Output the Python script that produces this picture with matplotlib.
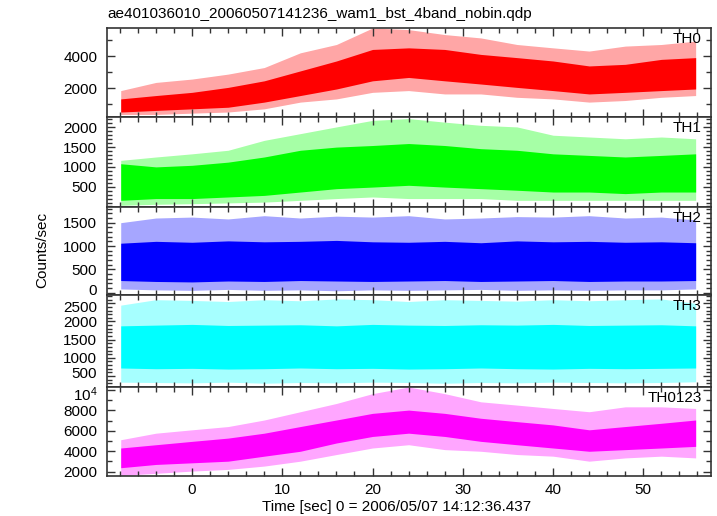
import matplotlib
matplotlib.use("Agg")
import matplotlib.pyplot as plt
import matplotlib.transforms as mtrans
from matplotlib.ticker import MultipleLocator, FixedLocator

plt.rcParams['font.family'] = ['Liberation Sans', 'DejaVu Sans']
plt.rcParams['mathtext.default'] = 'regular'

# ---- data (per ~4 s bin) ----
time_s = [-7.9, -4, 0, 4, 8, 12, 16, 20, 24, 28, 32, 36, 40, 44, 48, 52, 55.8]

th0_core_lo = [500, 600, 700, 800, 1120, 1530, 1940, 2450, 2660, 2450, 2250, 2040, 1840, 1630, 1730, 1840, 1940]
th0_core_hi = [1320, 1530, 1730, 2040, 2450, 3070, 3690, 4410, 4510, 4410, 4100, 3900, 3690, 3380, 3480, 3790, 3900]
th0_spk_lo = [350, 350, 430, 500, 700, 1120, 1320, 1730, 1840, 1630, 1630, 1420, 1320, 1120, 1220, 1420, 1530]
th0_spk_hi = [1840, 2350, 2560, 2870, 3280, 4200, 4720, 5750, 5650, 5340, 5130, 4720, 4510, 4310, 4620, 4720, 4930]

th1_core_lo = [155, 200, 200, 240, 280, 365, 450, 490, 535, 490, 450, 410, 365, 365, 325, 365, 365]
th1_core_hi = [1080, 1000, 1040, 1120, 1250, 1420, 1500, 1540, 1590, 1540, 1460, 1420, 1330, 1290, 1250, 1290, 1330]
th1_spk_lo = [30, 55, 70, 90, 110, 155, 200, 240, 200, 200, 200, 155, 155, 155, 155, 155, 155]
th1_spk_hi = [1165, 1250, 1330, 1420, 1670, 1840, 2010, 2175, 2220, 2130, 2050, 2010, 1800, 1755, 1710, 1755, 1710]

th2_core_lo = [260, 240, 230, 250, 240, 260, 250, 240, 250, 260, 240, 250, 260, 240, 250, 250, 260]
th2_core_hi = [1060, 1100, 1080, 1110, 1090, 1100, 1120, 1090, 1080, 1100, 1070, 1110, 1090, 1100, 1080, 1090, 1070]
th2_spk_lo = [80, 60, 50, 70, 50, 60, 40, 60, 50, 60, 70, 50, 60, 50, 60, 60, 80]
th2_spk_hi = [1500, 1600, 1620, 1580, 1650, 1600, 1640, 1620, 1650, 1580, 1600, 1630, 1620, 1650, 1600, 1620, 1560]

th3_core_lo = [720, 700, 710, 690, 700, 720, 700, 710, 690, 700, 720, 700, 690, 710, 700, 710, 720]
th3_core_hi = [1880, 1900, 1920, 1890, 1900, 1910, 1880, 1920, 1900, 1890, 1910, 1900, 1920, 1890, 1900, 1910, 1880]
th3_spk_lo = [330, 320, 310, 330, 300, 320, 310, 330, 320, 300, 320, 310, 330, 320, 310, 320, 340]
th3_spk_hi = [2450, 2600, 2580, 2550, 2600, 2570, 2620, 2600, 2550, 2600, 2580, 2560, 2600, 2570, 2600, 2620, 2500]

thall_core_lo = [2390, 2710, 2870, 3030, 3520, 4000, 4810, 5450, 5770, 5450, 4970, 4640, 4320, 4000, 4160, 4320, 4480]
thall_core_hi = [4320, 4640, 4970, 5290, 5770, 6420, 7060, 7710, 8030, 7710, 7230, 6900, 6580, 6100, 6420, 6740, 7060]
thall_spk_lo = [1640, 1840, 2060, 2225, 2550, 3030, 3680, 4320, 4640, 4160, 4000, 3680, 3520, 3030, 3350, 3520, 3350]
thall_spk_hi = [5130, 5770, 6100, 6420, 7060, 7870, 8680, 9640, 10290, 9640, 8840, 8520, 8190, 7870, 8350, 8350, 8190]

band_names = ["TH0", "TH1", "TH2", "TH3", "TH0123"]
band_colors = ["#ff0000", "#00ff00", "#0000ff", "#00ffff", "#ff00ff"]
band_data = [
    (th0_core_lo, th0_core_hi, th0_spk_lo, th0_spk_hi),
    (th1_core_lo, th1_core_hi, th1_spk_lo, th1_spk_hi),
    (th2_core_lo, th2_core_hi, th2_spk_lo, th2_spk_hi),
    (th3_core_lo, th3_core_hi, th3_spk_lo, th3_spk_hi),
    (thall_core_lo, thall_core_hi, thall_spk_lo, thall_spk_hi),
]
ylims = [(190, 5750), (-13, 2260), (-50, 1836), (197, 2729), (1580, 10290)]
major_ticks = [[2000, 4000], [500, 1000, 1500, 2000], [0, 500, 1000, 1500],
               [500, 1000, 1500, 2000, 2500], [2000, 4000, 6000, 8000, 10000]]
major_labels = [["2000", "4000"], ["500", "1000", "1500", "2000"], ["0", "500", "1000", "1500"],
                ["500", "1000", "1500", "2000", "2500"], ["2000", "4000", "6000", "8000", r"$10^4$"]]
minor_steps = [1000, 100, 100, 100, 1000]

title_text = "ae401036010_20060507141236_wam1_bst_4band_nobin.qdp"
xlabel_text = "Time [sec] 0 = 2006/05/07 14:12:36.437"
ylabel_text = "Counts/sec"

W, H = 717, 516
fig = plt.figure(figsize=(W / 100, H / 100), dpi=100)
bounds = [28, 117, 207, 295, 387, 476]
left, right = 107, 711
spine_col = "#333333"
fs = 11

axes = []
for i in range(5):
    top, bot = bounds[i], bounds[i + 1]
    ax = fig.add_axes([left / W, 1 - bot / H, (right - left) / W, (bot - top) / H],
                      sharex=axes[0] if axes else None)
    axes.append(ax)
    clo, chi, slo, shi = band_data[i]
    col = band_colors[i]
    ax.fill_between(time_s, slo, shi, color=col, alpha=0.35, lw=0)
    ax.fill_between(time_s, clo, chi, color=col, lw=0)
    ax.set_ylim(*ylims[i])
    ax.set_xlim(-9.42, 57.5)
    ax.yaxis.set_major_locator(FixedLocator(major_ticks[i]))
    ax.set_yticklabels(major_labels[i])
    ax.yaxis.set_minor_locator(MultipleLocator(minor_steps[i]))
    ax.xaxis.set_major_locator(MultipleLocator(10))
    ax.xaxis.set_minor_locator(MultipleLocator(2))
    ax.tick_params(which='both', direction='in', top=True, right=True,
                   color=spine_col, labelsize=fs)
    ax.tick_params(axis='y', pad=7)
    ax.tick_params(axis='x', pad=5)
    ax.tick_params(which='major', length=6, width=1)
    ax.tick_params(which='minor', length=3.5, width=1)
    for s in ax.spines.values():
        s.set_color(spine_col)
        s.set_linewidth(1.2)
    ax.text(0.985, 0.96, band_names[i], transform=ax.transAxes, ha='right', va='top',
            fontsize=fs, color='black')
    if i < 4:
        ax.tick_params(labelbottom=False)

# nudge the labels that sit on the panel boundaries so they do not collide
def nudge(label, dy_px):
    label.set_transform(label.get_transform() +
                        mtrans.ScaledTranslation(0, dy_px / 100, fig.dpi_scale_trans))

fig.canvas.draw()
nudge(axes[2].get_yticklabels()[0], 3)    # "0" of TH2
nudge(axes[3].get_yticklabels()[-1], -3)  # "2500" of TH3
nudge(axes[3].get_yticklabels()[0], 3)    # "500" of TH3
nudge(axes[4].get_yticklabels()[-1], -3)  # "10^4" of TH0123

fig.text(left / W, 1 - 14 / H, title_text, ha='left', va='center', fontsize=fs)
fig.text(397 / W, 1 - 507 / H, xlabel_text, ha='center', va='center', fontsize=fs)
fig.text(42 / W, 1 - 250 / H, ylabel_text, ha='center', va='center', rotation=90, fontsize=fs)

fig.savefig("out.png", dpi=100)
